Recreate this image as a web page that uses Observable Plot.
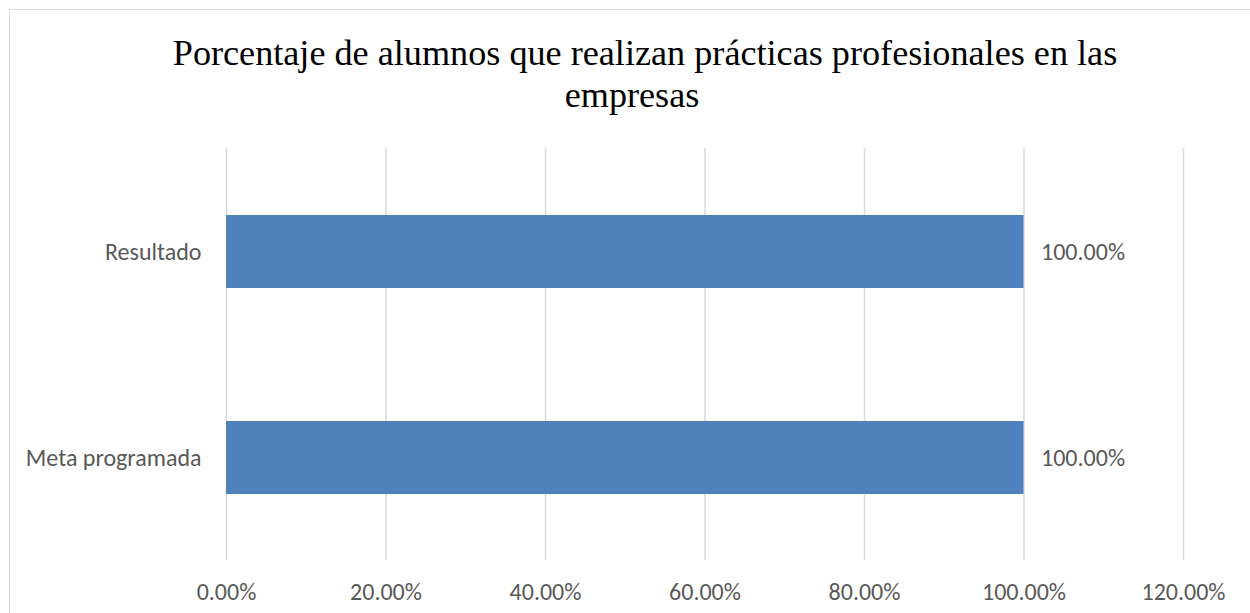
<!DOCTYPE html>
<html>
<head>
<meta charset="utf-8">
<script src="https://cdn.jsdelivr.net/npm/d3@7"></script>
<script src="https://cdn.jsdelivr.net/npm/@observablehq/plot@0.6"></script>
<style>
  body { margin: 0; overflow: hidden; background: #fff; width: 1250px; height: 613px; }
  #frame { position: absolute; left: 9px; top: 9px; width: 1290px; height: 650px; border: 1px solid #d9d9d9; box-sizing: border-box; }
  #title { position: absolute; left: 10px; top: 32px; width: 1270px; text-align: center;
           font-family: "Liberation Serif", "Times New Roman", serif; font-size: 36.2px; line-height: 42px; color: #000; }
  #title .l2 { position: relative; left: -13px; }
  #chart { position: absolute; left: 0; top: 130px; }
</style>
</head>
<body>
<div id="frame"></div>
<div id="title">Porcentaje de alumnos que realizan prácticas profesionales en las<br><span class="l2">empresas</span></div>
<div id="chart"></div>
<script>
const categories = ["Resultado", "Meta programada"];
const values = [1.0, 1.0];
const xTicks = [0, 0.2, 0.4, 0.6, 0.8, 1.0, 1.2];

const data = categories.map((c, i) => ({category: c, value: values[i]}));
const pct = d => (d * 100).toFixed(2) + "%";
const font = "Carlito, Lato, 'Open Sans', sans-serif";

const chart = Plot.plot({
  width: 1250,
  height: 483,
  marginLeft: 226,
  marginRight: 67,
  marginTop: 18,
  marginBottom: 53,
  style: {fontFamily: font, fontSize: "24px", color: "#595959", background: "transparent"},
  x: {domain: [0, 1.2], ticks: xTicks, label: null},
  y: {domain: categories, paddingInner: 0.646, paddingOuter: 0.323, label: null},
  marks: [
    Plot.ruleX(xTicks, {stroke: "#d9d9d9", strokeWidth: 1.5}),
    Plot.barX(data, {x: "value", y: "category", fill: "#4f81bd"}),
    Plot.text(data, {x: "value", y: "category", text: d => pct(d.value), textAnchor: "start", dx: 17, fill: "#595959", fontSize: 24}),
    Plot.axisX({ticks: xTicks, tickFormat: pct, tickSize: 0, tickPadding: 22, fontSize: 24, fill: "#595959", label: null}),
    Plot.axisY({tickSize: 0, tickPadding: 25, fontSize: 24, fill: "#595959", label: null})
  ]
});
document.getElementById("chart").appendChild(chart);
</script>
</body>
</html>
